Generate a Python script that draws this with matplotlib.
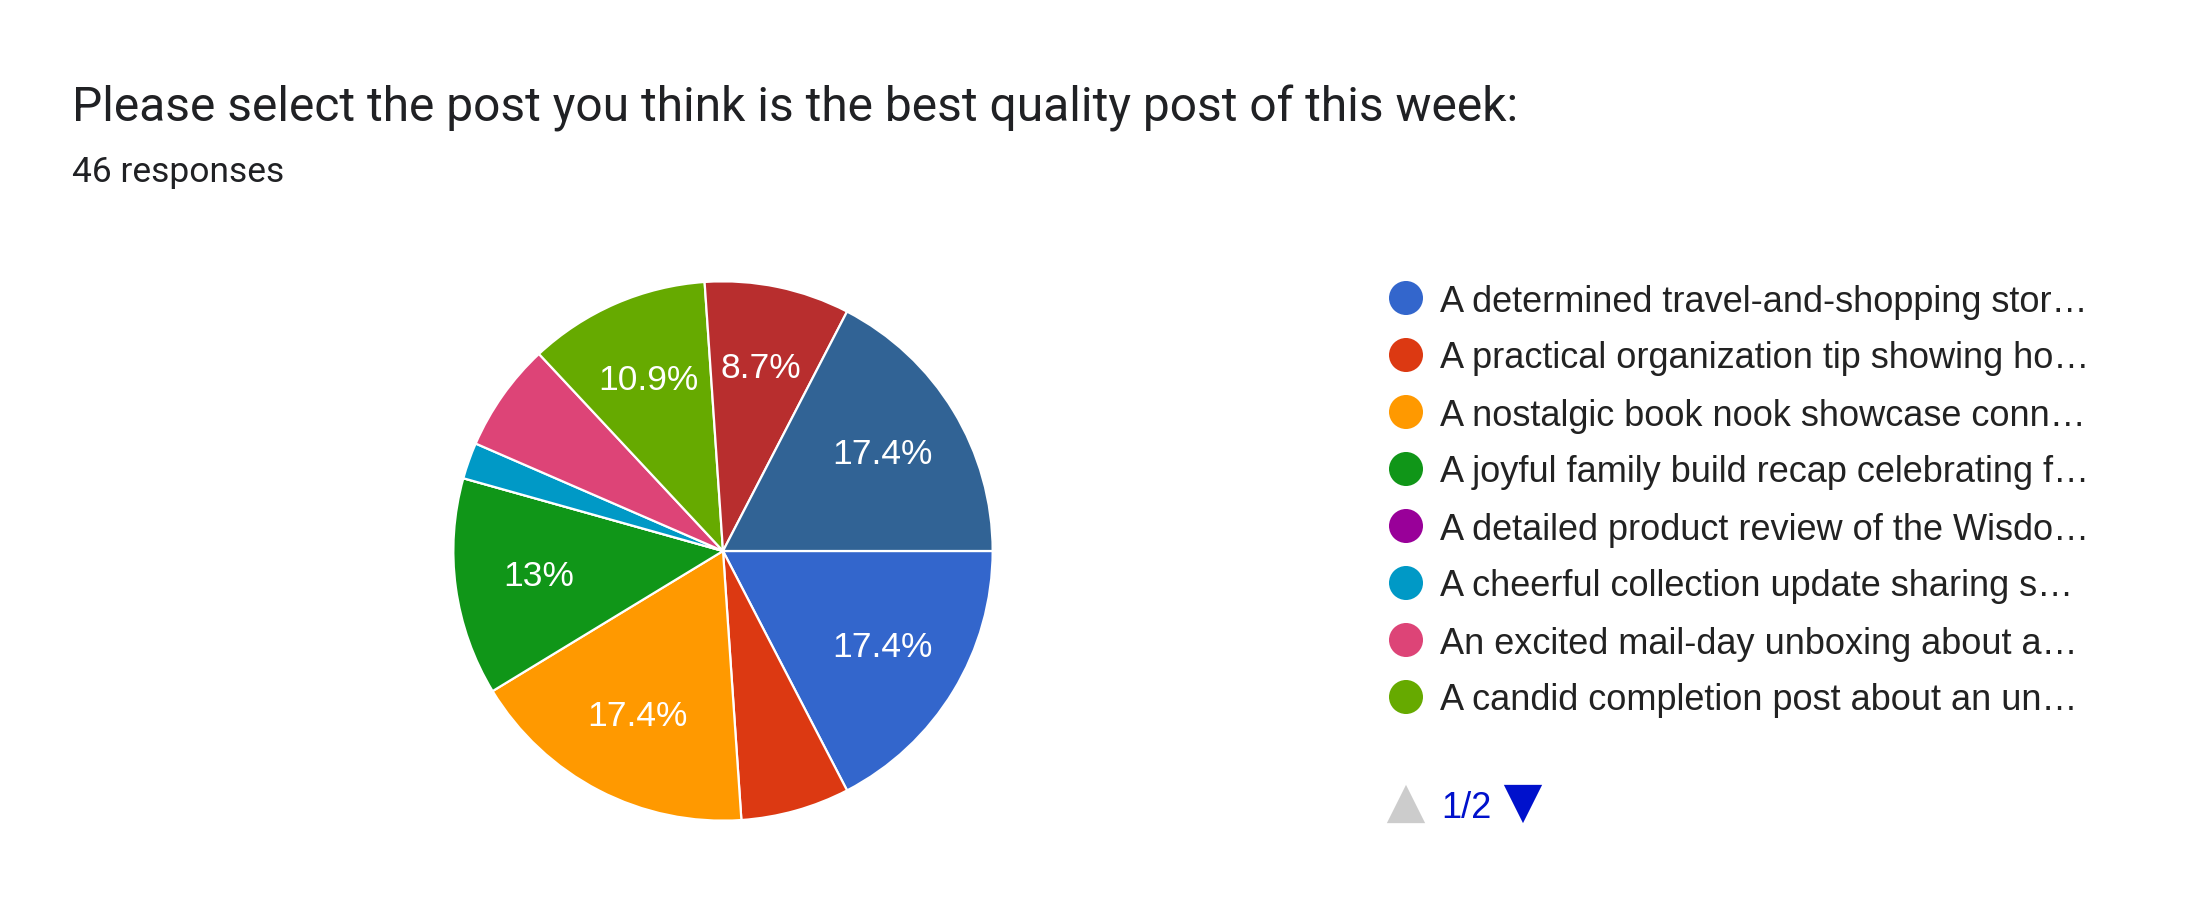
import matplotlib
matplotlib.use("Agg")
import matplotlib.pyplot as plt

plt.rcParams['font.family'] = ['Roboto', 'DejaVu Sans']
ARIAL = ['Liberation Sans', 'DejaVu Sans']

# ---- data ----
title = "Please select the post you think is the best quality post of this week:"
subtitle = "46 responses"
labels = ["A determined travel-and-shopping stor\u2026",
          "A practical organization tip showing ho\u2026",
          "A nostalgic book nook showcase conn\u2026",
          "A joyful family build recap celebrating f\u2026",
          "A detailed product review of the Wisdo\u2026",
          "A cheerful collection update sharing s\u2026",
          "An excited mail-day unboxing about a\u2026",
          "A candid completion post about an un\u2026",
          "(page 2 option 9)",
          "(page 2 option 10)"]
counts = [8, 3, 8, 6, 0, 1, 3, 5, 4, 8]
colors = ["#3366cc", "#dc3912", "#ff9900", "#109618", "#990099",
          "#0099c6", "#dd4477", "#66aa00", "#b82e2e", "#316395"]
page = "1/2"
n_shown = 8

W, H = 2196, 924
fig = plt.figure(figsize=(W / 100, H / 100), dpi=100)
fig.patch.set_facecolor("white")

# pie
cx, cy, r = 723, 551, 271
ax = fig.add_axes([(cx - r) / W, (H - cy - r) / H, 2 * r / W, 2 * r / H])


def fmt(p):
    if p < 8:
        return ""
    return f"{round(p, 1):g}%"


wedges, texts, autotexts = ax.pie(counts, colors=colors, startangle=0, counterclock=False,
                                  autopct=fmt, pctdistance=0.69,
                                  wedgeprops=dict(edgecolor="white", linewidth=1.6),
                                  textprops=dict(color="white", fontsize=25.5, family=ARIAL))
ax.set_xlim(-1.005, 1.005)
ax.set_ylim(-1.005, 1.005)
ax.set_aspect("equal")
ax.axis("off")

# overlay in pixel coords for texts / legend
ov = fig.add_axes([0, 0, 1, 1])
ov.set_xlim(0, W)
ov.set_ylim(H, 0)
ov.axis("off")
ov.patch.set_alpha(0)

ov.text(72, 121, title, fontsize=34.5, color="#202124", va="baseline", ha="left")
ov.text(72, 182, subtitle, fontsize=25.5, color="#202124", va="baseline", ha="left")

row_y0, row_dy = 298, 57
for i in range(n_shown):
    y = row_y0 + i * row_dy
    ov.scatter([1406], [y], s=600, color=colors[i], edgecolors="none")
    ov.text(1440, y, labels[i], fontsize=26, color="#222222", va="center_baseline",
            ha="left", family=ARIAL)

ov.scatter([1406], [804], marker="^", s=760, color="#cccccc", edgecolors="none")
ov.text(1441, 805, page, fontsize=26, color="#0011cc", va="center_baseline", ha="left",
        family=ARIAL)
ov.scatter([1523], [804], marker="v", s=760, color="#0011cc", edgecolors="none")

fig.savefig("out.png", dpi=100, facecolor="white")
